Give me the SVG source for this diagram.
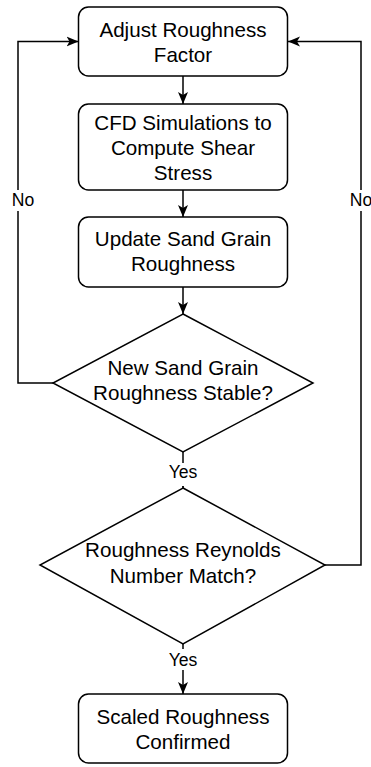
<svg xmlns="http://www.w3.org/2000/svg" width="371" height="767" viewBox="0 0 371 767">
<style>
.node{fill:#fff;stroke:#000;stroke-width:1.5}
.t{font-family:"Liberation Sans",Arial,Helvetica,sans-serif;font-size:20.6px;fill:#000;text-anchor:middle}
.lbl{font-family:"Liberation Sans",Arial,Helvetica,sans-serif;font-size:17.6px;fill:#000;text-anchor:middle}
.edge{fill:none;stroke:#000;stroke-width:1.5}
.bg{fill:#fff}
</style>
<defs>
<marker id="arr" viewBox="0 0 12 12" refX="12" refY="6" markerWidth="12" markerHeight="12" markerUnits="userSpaceOnUse" orient="auto">
<path d="M0,1 L12,6 L0,11 L3,6 z" fill="#000"/>
</marker>
</defs>
<g id="connectors">
<path class="edge" d="M183,76 L183,104" marker-end="url(#arr)"/>
<path class="edge" d="M183,190 L183,217" marker-end="url(#arr)"/>
<path class="edge" d="M183,287 L183,314" marker-end="url(#arr)"/>
<path class="edge" d="M53,383 L18,383 L18,41.5 L78.5,41.5" marker-end="url(#arr)"/>
<path class="edge" d="M325,565 L361,565 L361,41.5 L288,41.5" marker-end="url(#arr)"/>
<path class="edge" d="M183,452 L183,488" marker-end="url(#arr)"/>
<path class="edge" d="M183,644 L183,694" marker-end="url(#arr)"/>
<rect class="bg" x="8" y="190" width="30" height="21"/>
<text class="lbl" x="23" y="206">No</text>
<rect class="bg" x="348" y="190" width="26" height="21"/>
<text class="lbl" x="361" y="206">No</text>
<rect class="bg" x="166" y="463" width="34" height="23"/>
<text class="lbl" x="183" y="478">Yes</text>
<rect class="bg" x="166" y="649" width="34" height="21"/>
<text class="lbl" x="183" y="666">Yes</text>
</g>
<g id="adjust">
<rect class="node" x="78.5" y="7" width="209" height="69" rx="10"/>
<text class="t" x="183" y="36.5">Adjust Roughness</text>
<text class="t" x="183" y="61.5">Factor</text>
</g>
<g id="cfd">
<rect class="node" x="78.5" y="104" width="209" height="86" rx="10"/>
<text class="t" x="183" y="130">CFD Simulations to</text>
<text class="t" x="183" y="155">Compute Shear</text>
<text class="t" x="183" y="180">Stress</text>
</g>
<g id="update">
<rect class="node" x="78.5" y="217" width="209" height="70" rx="10"/>
<text class="t" x="183" y="246">Update Sand Grain</text>
<text class="t" x="183" y="271">Roughness</text>
</g>
<g id="stable">
<path class="node" d="M183,314 L313,383 L183,452 L53,383 Z"/>
<text class="t" x="183" y="375">New Sand Grain</text>
<text class="t" x="183" y="400">Roughness Stable?</text>
</g>
<g id="reynolds">
<path class="node" d="M183,488 L325,565 L183,644 L40,565 Z"/>
<text class="t" x="183" y="557">Roughness Reynolds</text>
<text class="t" x="183" y="583">Number Match?</text>
</g>
<g id="confirmed">
<rect class="node" x="78.5" y="694" width="209" height="69" rx="10"/>
<text class="t" x="183" y="724">Scaled Roughness</text>
<text class="t" x="183" y="749">Confirmed</text>
</g>
</svg>
